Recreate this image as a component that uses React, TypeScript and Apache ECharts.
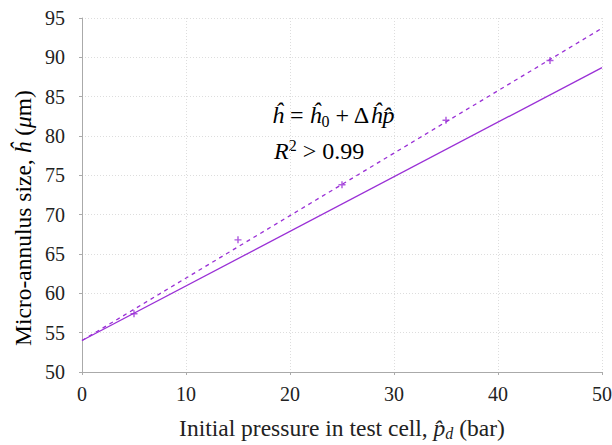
import React, { useEffect, useRef } from "react";
import * as echarts from "echarts";

const pressures = [5, 15, 25, 35, 45];
const measured = [57.4, 66.8, 73.8, 82.0, 89.6];
const fitX = [0, 50];
const fitDashed = [54.0, 93.7];
const fitSolid = [54.0, 88.7];
const xTicks = [0, 10, 20, 30, 40, 50];
const yTicks = [50, 55, 60, 65, 70, 75, 80, 85, 90, 95];

const PURPLE = "#9a30d6";
const FONT = "'Liberation Serif', 'DejaVu Serif', serif";
const TXT = "#222222";

export default function App() {
  const ref = useRef<HTMLDivElement>(null);
  useEffect(() => {
    if (!ref.current) return;
    const chart = echarts.init(ref.current, undefined, { renderer: "svg" });
    const mathRich = {
      n: { fontFamily: FONT, fontSize: 24, color: TXT, lineHeight: 28 },
      i: { fontFamily: FONT, fontSize: 24, fontStyle: "italic", color: TXT, lineHeight: 28 },
      sub: { fontFamily: FONT, fontSize: 16, color: TXT, lineHeight: 13, verticalAlign: "bottom" },
      sup: { fontFamily: FONT, fontSize: 16, color: TXT, lineHeight: 13, verticalAlign: "top" },
    };
    const nameRich = {
      n: { fontFamily: FONT, fontSize: 23.5, color: TXT, lineHeight: 26 },
      i: { fontFamily: FONT, fontSize: 23.5, fontStyle: "italic", color: TXT, lineHeight: 26 },
      sub: { fontFamily: FONT, fontSize: 16, fontStyle: "italic", color: TXT, lineHeight: 13, verticalAlign: "bottom" },
    };
    chart.setOption({
      animation: false,
      backgroundColor: "#ffffff",
      grid: { left: 82, right: 10, top: 18, bottom: 73, containLabel: false, outerBoundsMode: "none" },
      xAxis: {
        type: "value",
        min: xTicks[0],
        max: xTicks[xTicks.length - 1],
        interval: 10,
        name: "{n|Initial pressure in test cell, }{i|p̂}{sub|d}{n| (bar)}",
        nameLocation: "middle",
        nameGap: 43,
        nameTextStyle: { rich: nameRich },
        axisLine: { show: true, lineStyle: { color: "#aaaaaa", width: 1 } },
        axisTick: { show: true, length: 3, inside: false, lineStyle: { color: "#aaaaaa" } },
        axisLabel: { fontFamily: FONT, fontSize: 20, color: TXT, margin: 12 },
        splitLine: { show: true, lineStyle: { color: "#dddddd", type: [1, 2], width: 1 } },
      },
      yAxis: {
        type: "value",
        min: yTicks[0],
        max: yTicks[yTicks.length - 1],
        interval: 5,
        axisLine: { show: true, lineStyle: { color: "#aaaaaa", width: 1 } },
        axisTick: { show: true, length: 3, inside: false, lineStyle: { color: "#aaaaaa" } },
        axisLabel: { fontFamily: FONT, fontSize: 20, color: TXT, margin: 17 },
        splitLine: { show: true, lineStyle: { color: "#dddddd", type: [1, 2], width: 1 } },
      },
      graphic: [
        {
          type: "text",
          x: 23,
          y: 218,
          rotation: Math.PI / 2,
          style: {
            text: "{n|Micro-annulus size, }{i|ĥ}{n| (}{i|μ}{n|m)}",
            rich: nameRich,
            align: "center",
            verticalAlign: "middle",
          },
        },
        {
          type: "text",
          left: 272,
          top: 103,
          style: {
            text: "{i|ĥ}{n| = }{i|ĥ}{sub|0}{n| + Δ}{i|ĥp̂}",
            rich: mathRich,
          },
        },
        {
          type: "text",
          left: 274,
          top: 137,
          style: {
            text: "{i|R}{sup|2}{n| > 0.99}",
            rich: mathRich,
          },
        },
      ],
      series: [
        {
          type: "line",
          data: fitX.map((x, k) => [x, fitSolid[k]]),
          showSymbol: false,
          lineStyle: { color: PURPLE, width: 1.3, type: "solid" },
          z: 2,
        },
        {
          type: "line",
          data: fitX.map((x, k) => [x, fitDashed[k]]),
          showSymbol: false,
          lineStyle: { color: PURPLE, width: 1.3, type: [4, 4] },
          z: 2,
        },
        {
          type: "scatter",
          data: pressures.map((x, k) => [x, measured[k]]),
          symbol: "path://M4,0H6V4H10V6H6V10H4V6H0V4H4Z",
          symbolSize: 7,
          itemStyle: { color: PURPLE },
          z: 3,
        },
      ],
    });
    return () => chart.dispose();
  }, []);
  return <div ref={ref} style={{ width: 612, height: 445, position: "absolute", left: 0, top: 0 }} />;
}
